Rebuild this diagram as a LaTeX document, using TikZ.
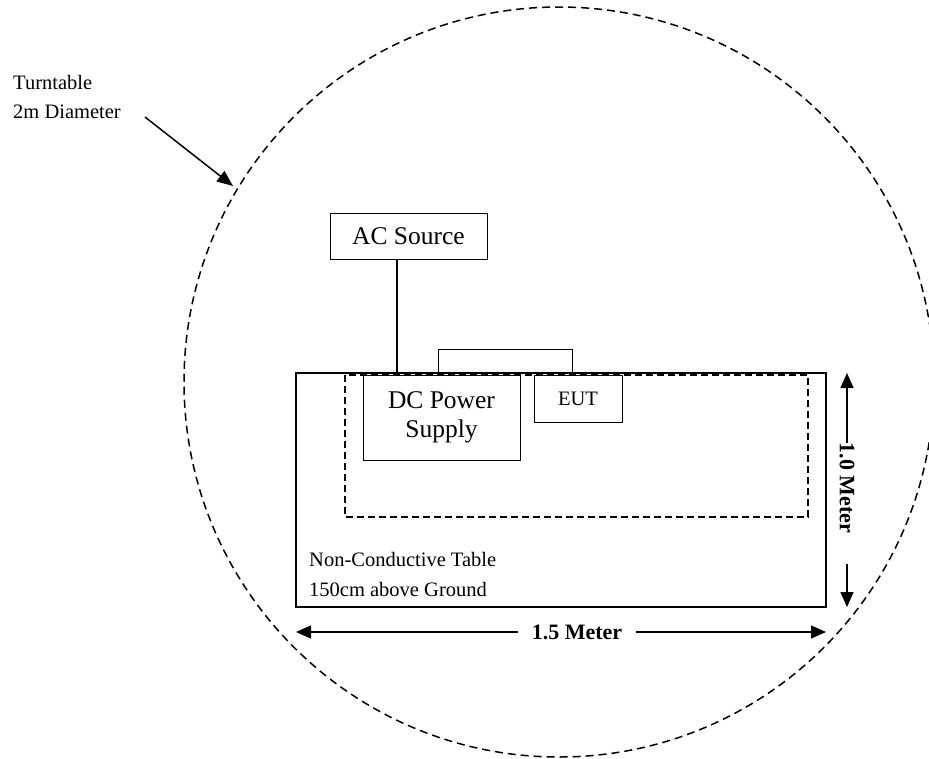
\documentclass[tikz,border=0pt]{standalone}
\usepackage{fontspec}
\setmainfont{Liberation Serif}
\usetikzlibrary{arrows.meta}
\begin{document}
\begin{tikzpicture}[x=1pt,y=-1pt,
  bigtxt/.style={font=\fontsize{25.5}{29.5}\selectfont},
  smalltxt/.style={font=\fontsize{20.5}{24}\selectfont},
  dimtxt/.style={font=\fontsize{22}{26}\selectfont\bfseries, inner sep=0pt},
  box/.style={draw, line width=1pt, inner sep=0pt, outer sep=0pt},
  dimarrow/.style={line width=1.4pt, -{Triangle[length=15pt,width=13pt]}},
  turndash/.style={line width=1.5pt, dash pattern=on 8pt off 5pt},
  areadash/.style={line width=1.5pt, dash pattern=on 7pt off 4pt}]
\useasboundingbox (0,0) rectangle (929,758);
% turntable
\begin{scope}
  \clip (0,0) rectangle (929,758);
  \draw[turndash] (559,382) circle[radius=375pt];
\end{scope}
% table
\node[box, line width=2.2pt, minimum width=530pt, minimum height=234pt] (table) at (561,490) {};
\node[box, draw=none, minimum width=463pt, minimum height=142pt] (area) at (576.5,446) {};
\draw[areadash] (area.north west) rectangle (area.south east);
% devices
\node[box, fill=white, bigtxt, minimum width=157pt, minimum height=85pt, align=center] (dc) at (441.5,417.5) {DC Power\\Supply};
\node[box, fill=white, smalltxt, minimum width=88pt, minimum height=47pt] (eut) at (578,398.5) {EUT};
\node[box, bigtxt, minimum width=157pt, minimum height=46pt] (ac) at (408.5,236) {AC Source};
% cables
\draw[line width=1pt] ([xshift=75pt]dc.north west) -- ++(0,-26) -| ([xshift=38pt]eut.north west);
\draw[line width=1.3pt] ([xshift=67pt]ac.south west) -- ([xshift=67pt]ac.south west |- table.north);
% table labels
\node[smalltxt, anchor=base west, inner sep=0pt] (tl1) at (309,566) {Non-Conductive Table};
\node[smalltxt, anchor=base west, inner sep=0pt] (tl2) at (309,596) {150cm above Ground};
% dimensions
\node[dimtxt, inner xsep=14pt] (hlab) at (577,632) {1.5 Meter};
\draw[dimarrow] (hlab.west) -- (table.west |- hlab.west);
\draw[dimarrow] (hlab.east) -- (table.east |- hlab.east);
\node[dimtxt, rotate=-90] (vlab) at (847,488) {1.0 Meter};
\coordinate (vlow) at (847,564);
\draw[dimarrow] (vlab.west) -- (table.north -| vlab.west);
\draw[dimarrow] (vlow) -- (table.south -| vlow);
% turntable label
\node[smalltxt, anchor=base west, inner sep=0pt] (tt1) at (13,89) {Turntable};
\node[smalltxt, anchor=base west, inner sep=0pt] (tt2) at (13,118) {2m Diameter};
\coordinate (ttail) at (145,117);
\coordinate (ttip) at (233,186);
\draw[line width=1.5pt, -{Triangle[length=16pt,width=13pt]}] (ttail) -- (ttip);
\end{tikzpicture}
\end{document}
